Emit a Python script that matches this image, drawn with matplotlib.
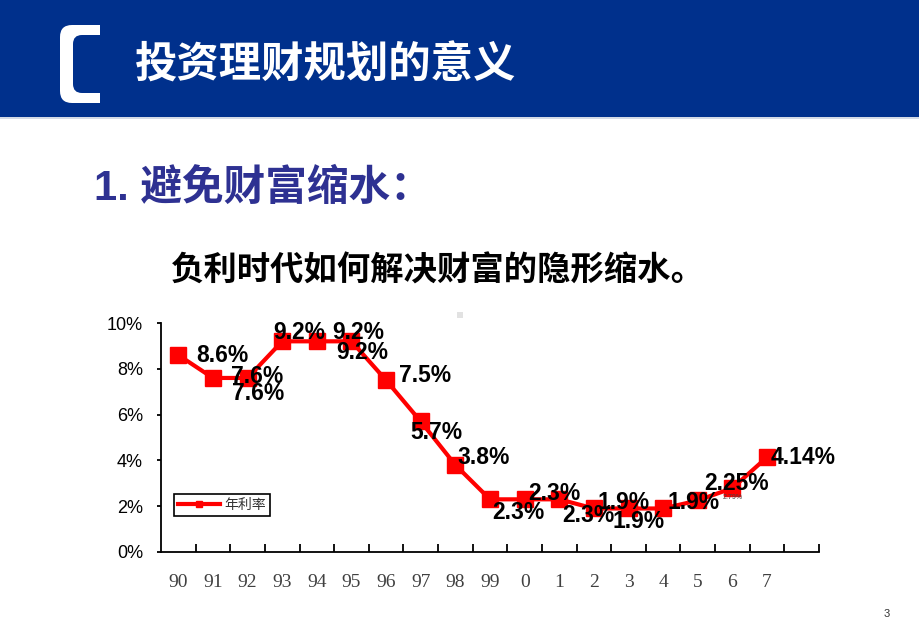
import matplotlib
matplotlib.use('Agg')
import matplotlib.pyplot as plt
import numpy as np
from matplotlib.path import Path
from matplotlib.patches import PathPatch, Rectangle

# ---- data
years  = ['90','91','92','93','94','95','96','97','98','99','0','1','2','3','4','5','6','7']
rates  = [8.6, 7.6, 7.6, 9.2, 9.2, 9.2, 7.5, 5.7, 3.8, 2.3, 2.3, 2.3, 1.9, 1.9, 1.9, 2.25, 2.79, 4.14]
labels = ['8.6%','7.6%','7.6%','9.2%','9.2%','9.2%','7.5%','5.7%','3.8%','2.3%','2.3%','2.3%',
          '1.9%','1.9%','1.9%','2.25%','2.79%','4.14%']
yticks = [0, 2, 4, 6, 8, 10]

title    = '投资理财规划的意义'
heading  = '1. 避免财富缩水：'
subtitle = '负利时代如何解决财富的隐形缩水。'
legend_name = '年利率'

# label offsets (pixels, dx right / dy down) -- copied from where they sit in the slide
offs = [(44,0),(45,16),(10,-1),(17,-9),(45,11),(7,-9),(39,-5),(16,11),(28,-7),(28,13),
        (30,-6),(29,16),(30,-6),(10,13),(30,-6),(39,-17),(0,9),(36,0)]

CJK = ['Liberation Sans', 'Noto Sans CJK SC', 'DejaVu Sans']
W, H = 920, 637
fig = plt.figure(figsize=(W/100, H/100), dpi=100)

### slide background (pixel coords)
bg = fig.add_axes([0, 0, 1, 1])
bg.set_xlim(0, W); bg.set_ylim(H, 0); bg.axis('off')
bg.add_patch(Rectangle((0, 0), W, 117, fc='#00308C', ec='none'))
bg.add_patch(Rectangle((0, 117), W, 2, fc='#D4DAE6', ec='none'))
# the white bracket
verts = [(100,25),(72,25),(60,25),(60,37),(60,91),(60,103),(72,103),(100,103),(100,93),
         (82,93),(73,93),(73,84),(73,44),(73,35),(82,35),(100,35),(100,25)]
codes = [Path.MOVETO,Path.LINETO,Path.CURVE3,Path.CURVE3,Path.LINETO,Path.CURVE3,Path.CURVE3,
         Path.LINETO,Path.LINETO,Path.LINETO,Path.CURVE3,Path.CURVE3,Path.LINETO,Path.CURVE3,
         Path.CURVE3,Path.LINETO,Path.CLOSEPOLY]
bg.add_patch(PathPatch(Path(verts, codes), fc='white', ec='none'))
bg.text(135, 66, title, color='white', fontsize=30.5, fontweight='bold', family=CJK, va='center', ha='left')
bg.text(94, 189, heading, color='#2E3192', fontsize=30, fontweight='bold', family=CJK, va='center', ha='left')
bg.text(171, 271, subtitle, color='black', fontsize=24, fontweight='bold', family=CJK, va='center', ha='left')
bg.add_patch(Rectangle((457, 312), 6, 6, fc='#E2E2E2', ec='none'))
bg.text(887, 614, '3', fontsize=8, color='#333333', ha='center', va='center', family='Liberation Sans')

### chart
ax = fig.add_axes([161/W, 1-552/H, (819-161)/W, (552-323)/H])
ax.set_facecolor('none')
x = np.arange(len(years))
ax.plot(x, rates, color='#FF0000', lw=3, marker='s', markersize=11, label=legend_name,
        solid_joinstyle='miter', zorder=3)
for i, (lab, (dx, dy)) in enumerate(zip(labels, offs)):
    small = lab == '2.79%'
    ax.annotate(lab, xy=(x[i], rates[i]), xytext=(dx, -dy), textcoords='offset pixels',
                ha='center', va='center', fontsize=5 if small else 16.5,
                fontweight='normal' if small else 'bold',
                color='#444444' if small else 'black', family='Liberation Sans', zorder=4)

ax.set_xlim(-0.5, len(years) + 0.5)
ax.set_ylim(0, 10)
ax.spines['top'].set_visible(False)
ax.spines['right'].set_visible(False)
for s in ['left', 'bottom']:
    ax.spines[s].set_linewidth(1.3)
ax.set_yticks(yticks)
ax.set_yticklabels(['%d%%' % v for v in yticks], fontsize=13, family='Liberation Sans')
ax.tick_params(axis='y', direction='out', length=3, width=1.3, pad=10)
ax.set_xticks(np.arange(len(years) + 1) + 0.5)
ax.set_xticklabels([])
ax.tick_params(axis='x', which='major', direction='in', length=6, width=1.3)
ax.set_xticks(x, minor=True)
ax.set_xticklabels(years, minor=True, fontsize=14, family='Liberation Serif', color='#404040')
ax.tick_params(axis='x', which='minor', length=0, pad=16)

leg = ax.legend(loc='lower left', bbox_to_anchor=(0.02, 0.157), borderaxespad=0, fancybox=False,
                edgecolor='black', framealpha=1, markerscale=0.35, handlelength=3.0,
                prop={'family': 'Noto Sans CJK SC', 'size': 10}, borderpad=0.3, handletextpad=0.3)
leg.get_frame().set_linewidth(1.2)
for t in leg.get_texts():
    t.set_color('#333333')

fig.savefig('out.png', dpi=100)
